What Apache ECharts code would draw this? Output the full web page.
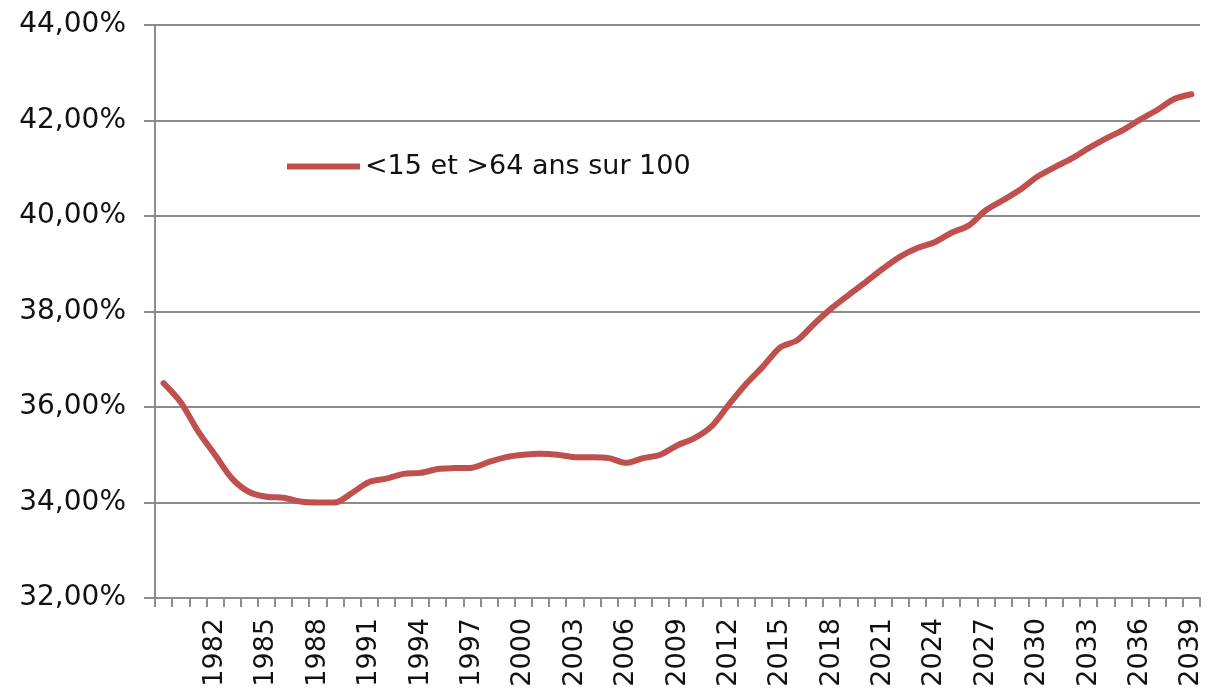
<!DOCTYPE html>
<html>
<head>
<meta charset="utf-8">
<script src="https://cdn.jsdelivr.net/npm/echarts@6/dist/echarts.min.js"></script>
<style>html,body{margin:0;padding:0;background:#fff;}#c{width:1206px;height:694px;}</style>
</head>
<body>
<div id="c"></div>
<script>
const years = [];
for (let y = 1979; y <= 2039; y++) years.push(String(y));
const seriesName = '<15 et >64 ans sur 100';
const values = [
  36.50, 36.10, 35.50, 35.00, 34.50, 34.22, 34.12, 34.10, 34.02, 34.00,
  34.00, 34.20, 34.43, 34.50, 34.60, 34.62, 34.70, 34.72, 34.73, 34.85,
  34.95, 35.00, 35.02, 35.00, 34.95, 34.95, 34.93, 34.83, 34.93, 35.00,
  35.20, 35.35, 35.60, 36.05, 36.48, 36.85, 37.25, 37.40, 37.75, 38.07,
  38.35, 38.62, 38.90, 39.15, 39.33, 39.45, 39.65, 39.80, 40.12, 40.33,
  40.55, 40.82, 41.02, 41.20, 41.42, 41.62, 41.80, 42.02, 42.22, 42.45,
  42.55
];
const yTicks = { min: 32, max: 44, interval: 2 };

const chart = echarts.init(document.getElementById('c'), null, { renderer: 'canvas' });
const font = 'DejaVu Sans';
chart.setOption({
  backgroundColor: '#ffffff',
  animation: false,
  textStyle: { fontFamily: font },
  legend: {
    left: 282, top: 148,
    itemWidth: 73, itemHeight: 6, icon: 'rect',
    itemGap: 10,
    textStyle: { fontFamily: font, fontSize: 27, color: '#111111' },
    data: [seriesName]
  },
  grid: { left: 155, right: 6, top: 25, bottom: 96, containLabel: false },
  xAxis: {
    type: 'category',
    data: years,
    boundaryGap: true,
    axisLine: { show: true, lineStyle: { color: '#8c8c8c', width: 2 } },
    axisTick: { show: true, interval: 0, length: 9, lineStyle: { color: '#8c8c8c', width: 2 } },
    axisLabel: {
      interval: function (idx) { return idx > 0 && idx % 3 === 0; },
      rotate: 90, margin: 20,
      fontFamily: font, fontSize: 27, color: '#111111'
    },
    splitLine: { show: false }
  },
  yAxis: {
    type: 'value',
    min: yTicks.min, max: yTicks.max, interval: yTicks.interval,
    axisLine: { show: true, lineStyle: { color: '#8c8c8c', width: 2 } },
    axisTick: { show: true, length: 11, lineStyle: { color: '#8c8c8c', width: 2 } },
    axisLabel: {
      margin: 29,
      fontFamily: font, fontSize: 28, color: '#111111',
      formatter: function (v) { return v.toFixed(2).replace('.', ',') + '%'; }
    },
    splitLine: { show: true, lineStyle: { color: '#8c8c8c', width: 2 } }
  },
  series: [{
    name: seriesName,
    type: 'line',
    data: values,
    smooth: 0.3,
    symbol: 'none',
    lineStyle: { color: '#C0504D', width: 6, cap: 'round', join: 'round' },
    itemStyle: { color: '#C0504D' }
  }]
});
</script>
</body>
</html>
